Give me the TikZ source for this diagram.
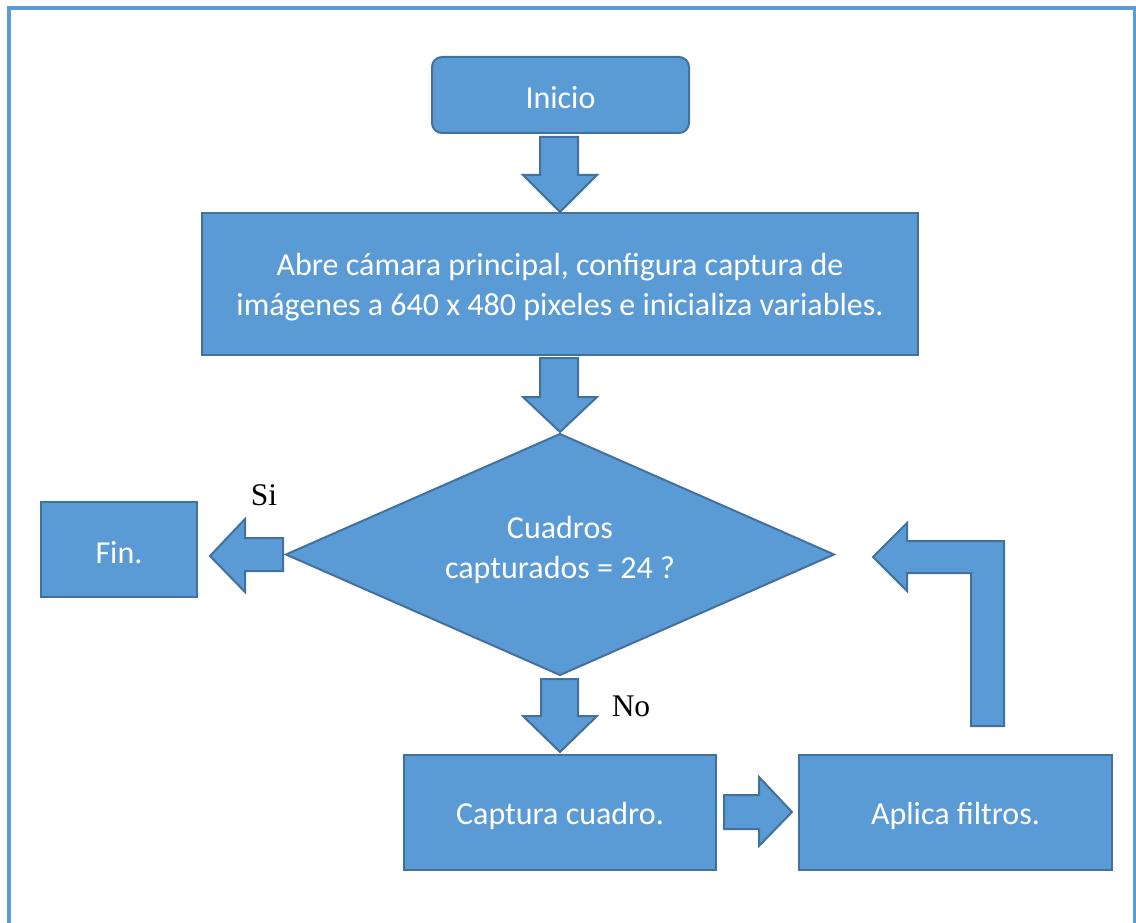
\documentclass[tikz,border=0pt]{standalone}
\usepackage{fontspec}
\setmainfont{Carlito}
\newfontfamily\labelfont{Liberation Serif}
\definecolor{boxfill}{HTML}{5B9BD5}
\definecolor{boxline}{HTML}{41719C}
\definecolor{framecol}{HTML}{5B9BD5}
\begin{document}
\begin{tikzpicture}[x=1pt,y=-1pt,
  box/.style={draw=boxline,fill=boxfill,line width=2pt,inner sep=0pt},
  boxtext/.style={text=white,font=\fontsize{32}{39.5}\selectfont,align=center,
    inner sep=0pt,yshift=-3pt},
  blockarrow/.style={draw=boxline,fill=boxfill,line width=2pt,line join=miter},
  branchlabel/.style={font=\labelfont\fontsize{31.5}{34}\selectfont,text=black,inner sep=0pt}]
\useasboundingbox (0,0) rectangle (1136,923);
% page frame (bottom edge falls below the page)
\begin{scope}
\clip (0,0) rectangle (1136,923);
\draw[framecol,line width=4pt] (9,960) -- (9,8.5) -- (1134.5,8.5) -- (1134.5,960);
\end{scope}

% process steps
\node[box,rounded corners=10pt,minimum width=257pt,minimum height=76pt,
  label={[boxtext]center:Inicio}] (inicio) at (560.5,95) {};
\node[box,minimum width=716pt,minimum height=142pt,
  label={[boxtext]center:Abre cámara principal, configura captura de\\imágenes a 640 x 480 pixeles e inicializa variables.}]
  (abre) at (560,284) {};
\path[box] (560,434) coordinate (dtop) -- (834,554.5) coordinate (dright)
  -- (560,675) coordinate (dbot) -- (286,554.5) coordinate (dleft) -- cycle;
\node[boxtext] (cuadros) at (560,547) {Cuadros\\capturados = 24 ?};
\node[box,minimum width=156pt,minimum height=95pt,
  label={[boxtext]center:Fin.}] (fin) at (119,549.5) {};
\node[box,minimum width=312pt,minimum height=115pt,
  label={[boxtext]center:Captura cuadro.}] (captura) at (560,812.5) {};
\node[box,minimum width=313pt,minimum height=115pt,
  label={[boxtext]center:Aplica filtros.}] (aplica) at (955.5,812.5) {};

% block arrows between the steps
\draw[blockarrow] (540,137) -- (578,137) -- (578,175) -- (597,175) -- (560,212)
  -- (523,175) -- (540,175) -- cycle;
\draw[blockarrow] (540,358) -- (578,358) -- (578,397) -- (597,397) -- (560,432)
  -- (523,397) -- (540,397) -- cycle;
\draw[blockarrow] (541,679) -- (578,679) -- (578,716) -- (597,716) -- (560,752)
  -- (523,716) -- (541,716) -- cycle;
\draw[blockarrow] (283,538) -- (283,571) -- (245,571) -- (245,592) -- (210,556)
  -- (245,519) -- (245,538) -- cycle;
\draw[blockarrow] (724,795) -- (759,795) -- (759,777) -- (792,812) -- (759,846)
  -- (759,829) -- (724,829) -- cycle;
% loop back from the filters to the decision
\draw[blockarrow] (1004,726) -- (1004,541) -- (907,541) -- (907,523) -- (873,557)
  -- (907,591) -- (907,573) -- (971,573) -- (971,726) -- cycle;

% branch labels
\node[branchlabel] (si) at (264,495) {Si};
\node[branchlabel] (no) at (631,706) {No};
\end{tikzpicture}
\end{document}
